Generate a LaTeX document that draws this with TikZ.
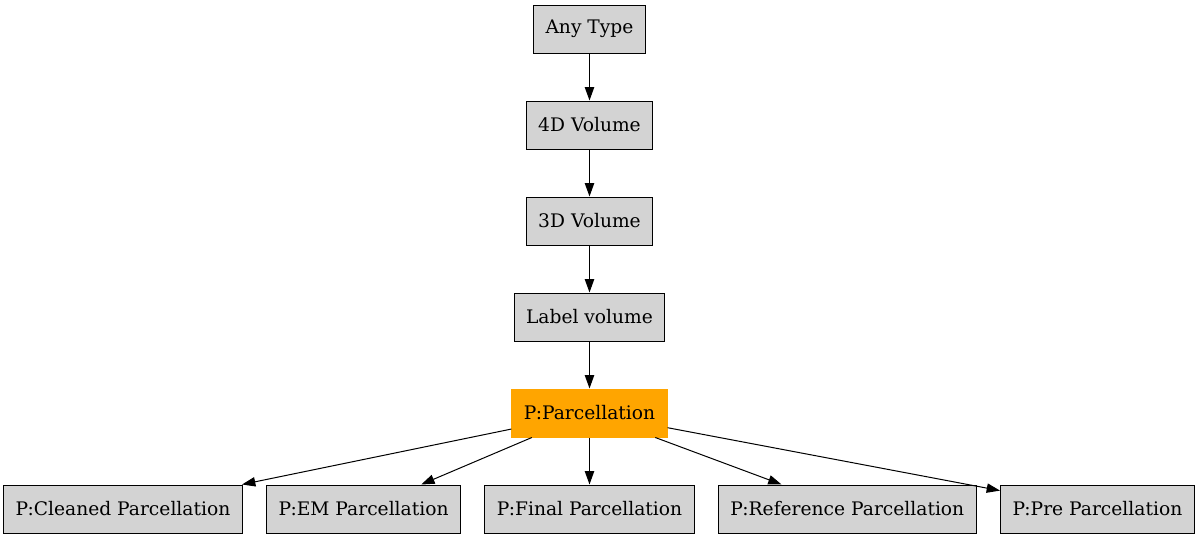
\documentclass[tikz,border=0pt]{standalone}
\usepackage{fontspec}
\setmainfont{DejaVu Serif}
\usetikzlibrary{positioning, arrows.meta}
\definecolor{boxgray}{RGB}{211,211,211}
\definecolor{parcorange}{RGB}{255,165,0}
\tikzstyle{typebox} = [rectangle, minimum height=36pt, inner xsep=9pt, text centered, draw=black, line width=0.75pt, fill=boxgray, font=\fontsize{14}{16}\selectfont]
\tikzstyle{current} = [typebox, draw=parcorange, fill=parcorange]
\tikzstyle{arrow} = [line width=0.75pt,-{Triangle[length=10pt,width=7pt]}]

\begin{document}
\begin{tikzpicture}[x=0.75pt, y=-0.75pt, node distance=72pt]
\useasboundingbox (0,0) rectangle (1199,539);

\node (anytype) [typebox] at (589.5,29) {Any Type};
\node (vol4d) [typebox, below of=anytype] {4D Volume};
\node (vol3d) [typebox, below of=vol4d] {3D Volume};
\node (labelvol) [typebox, below of=vol3d] {Label volume};
\node (parc) [current, below of=labelvol] {P:Parcellation};
\node (final) [typebox, below of=parc] {P:Final Parcellation};
\node (em) [typebox, left=17.5pt of final] {P:EM Parcellation};
\node (cleaned) [typebox, left=17.5pt of em] {P:Cleaned Parcellation};
\node (reference) [typebox, right=17.5pt of final] {P:Reference Parcellation};
\node (pre) [typebox, right=17.5pt of reference] {P:Pre Parcellation};

\draw [arrow] (anytype) -- (vol4d);
\draw [arrow] (vol4d) -- (vol3d);
\draw [arrow] (vol3d) -- (labelvol);
\draw [arrow] (labelvol) -- (parc);
\draw [arrow] (parc) -- (cleaned);
\draw [arrow] (parc) -- (em);
\draw [arrow] (parc) -- (final);
\draw [arrow] (parc) -- (reference);
\draw [arrow] (parc) -- (pre);

\end{tikzpicture}
\end{document}
